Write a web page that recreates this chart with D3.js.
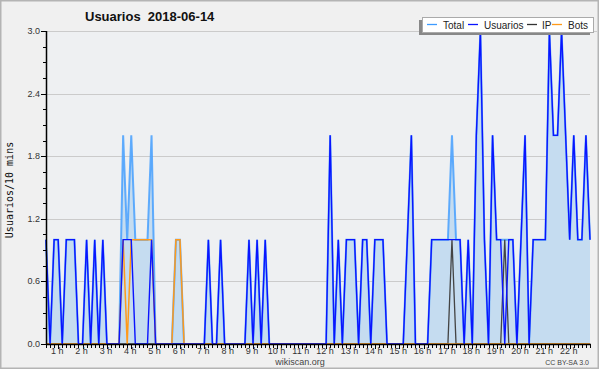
<!DOCTYPE html>
<html>
<head>
<meta charset="utf-8">
<script src="https://cdn.jsdelivr.net/npm/d3@7"></script>
<style>
  body { margin: 0; background: #fff; }
  text { font-family: "Liberation Sans", Arial, sans-serif; }
</style>
</head>
<body>
<svg id="chart" width="600" height="370"></svg>
<script>
// ########## DATOS ##########
// un punto cada 10 minutos, el primero a las 00:30
const START_MIN = 30;
const STEP_MIN = 10;

const total = [
  1,0,1,1,0,1,1,1,0,0,
  1,0,1,0,1,0,0,0,0,2,
  1,2,1,1,1,1,2,0,0,0,
  0,0,1,1,0,0,0,0,0,0,
  1,0,0,1,0,0,0,0,0,0,
  1,0,1,0,1,0,0,0,0,0,
  0,0,0,0,0,0,0,0,0,0,
  2,0,1,0,1,1,1,0,1,1,
  0,1,1,1,0,0,0,0,0,1,
  2,0,0,0,0,1,1,1,1,1,
  2,1,1,0,1,0,2,3,1,0,
  2,1,1,1,1,1,0,1,2,0,
  1,1,1,1,3,2,2,3,2,1,
  2,1,1,2,1
];

const usuarios = [
  1,0,1,1,0,1,1,1,0,0,
  1,0,1,0,1,0,0,0,0,1,
  1,1,0,0,0,0,1,0,0,0,
  0,0,0,0,0,0,0,0,0,0,
  1,0,0,1,0,0,0,0,0,0,
  1,0,1,0,1,0,0,0,0,0,
  0,0,0,0,0,0,0,0,0,0,
  2,0,1,0,1,1,1,0,1,1,
  0,1,1,1,0,0,0,0,0,1,
  2,0,0,0,0,1,1,1,1,1,
  1,1,1,0,1,0,2,3,1,0,
  2,1,1,0,1,1,0,1,2,0,
  1,1,1,1,3,2,2,3,2,1,
  2,1,1,2,1
];

const ip = [
  0,0,0,0,0,0,0,0,0,0,
  0,0,0,0,0,0,0,0,0,0,
  0,0,0,0,0,0,0,0,0,0,
  0,0,0,0,0,0,0,0,0,0,
  0,0,0,0,0,0,0,0,0,0,
  0,0,0,0,0,0,0,0,0,0,
  0,0,0,0,0,0,0,0,0,0,
  0,0,0,0,0,0,0,0,0,0,
  0,0,0,0,0,0,0,0,0,0,
  0,0,0,0,0,0,0,0,0,0,
  1,0,0,0,0,0,0,0,0,0,
  0,0,0,1,0,0,0,0,0,0,
  0,0,0,0,0,0,0,0,0,0,
  0,0,0,0,0
];

const bots = [
  0,0,0,0,0,0,0,0,0,0,
  0,0,0,0,0,0,0,0,0,1,
  0,1,1,1,1,1,1,0,0,0,
  0,0,1,1,0,0,0,0,0,0,
  0,0,0,0,0,0,0,0,0,0,
  0,0,0,0,0,0,0,0,0,0,
  0,0,0,0,0,0,0,0,0,0,
  0,0,0,0,0,0,0,0,0,0,
  0,0,0,0,0,0,0,0,0,0,
  0,0,0,0,0,0,0,0,0,0,
  0,0,0,0,0,0,0,0,0,0,
  0,0,0,0,0,0,0,0,0,0,
  0,0,0,0,0,0,0,0,0,0,
  0,0,0,0,0
];

const yTicks = [0, 0.6, 1.2, 1.8, 2.4, 3.0];
const hourLabels = [1,2,3,4,5,6,7,8,9,10,11,12,13,14,15,16,17,18,19,20,21,22];

const series = [
  { name: "Total", values: total, color: "#3d9bff" },
  { name: "Usuarios", values: usuarios, color: "#0a14ff" },
  { name: "IP", values: ip, color: "#333333" },
  { name: "Bots", values: bots, color: "#ff9a1a" }
];

// ########## GEOMETRIA ##########
const WIDTH = 600, HEIGHT = 370;
const L = 46, R = 590, T = 31, B = 344;

const minutos = d3.range(total.length).map(i => START_MIN + i * STEP_MIN);

const x = d3.scaleLinear()
  .domain([minutos[0], minutos[minutos.length - 1]])
  .range([L, R]);
const y = d3.scaleLinear().domain([0, 3]).range([B, T]);

const svg = d3.select("#chart");

// fondo y marco
svg.append("rect").attr("x", 0).attr("y", 0).attr("width", WIDTH).attr("height", HEIGHT).attr("fill", "#fff");
svg.append("rect")
  .attr("x", 0.75).attr("y", 0.75).attr("width", 597.5).attr("height", 367.5)
  .attr("fill", "#f0f0f0").attr("stroke", "#b4b4b4").attr("stroke-width", 1.5);
svg.append("rect")
  .attr("x", L).attr("y", T).attr("width", R - L).attr("height", B - T)
  .attr("fill", "#eef0f2");

// rejilla horizontal
svg.append("g").selectAll("line")
  .data(yTicks.filter(d => d > 0))
  .enter().append("line")
  .attr("x1", L).attr("x2", d => d === 3 ? 597 : R)
  .attr("y1", d => Math.round(y(d)) + 0.5).attr("y2", d => Math.round(y(d)) + 0.5)
  .attr("stroke", "#cbcbcb").attr("stroke-width", 1);

// area del total
const area = d3.area()
  .x((d, i) => x(minutos[i]))
  .y0(y(0))
  .y1(d => y(d));
svg.append("path")
  .datum(total)
  .attr("d", area)
  .attr("fill", "#c5dcf0");

// lineas
const line = d3.line()
  .x((d, i) => x(minutos[i]))
  .y(d => y(d));

svg.append("path").datum(total).attr("d", line)
  .attr("fill", "none").attr("stroke", "#3d9bff").attr("stroke-width", 2).attr("stroke-opacity", 0.8);
svg.append("path").datum(ip).attr("d", line)
  .attr("fill", "none").attr("stroke", "#444").attr("stroke-width", 1.3);
svg.append("path").datum(bots).attr("d", line)
  .attr("fill", "none").attr("stroke", "#ff9a1a").attr("stroke-width", 1.5);
svg.append("path").datum(usuarios).attr("d", line)
  .attr("fill", "none").attr("stroke", "#0a14ff").attr("stroke-width", 1.4);

// ########## EJES ##########
// eje Y
const yAxis = svg.append("g");
yAxis.append("line")
  .attr("x1", L + 0.5).attr("x2", L + 0.5).attr("y1", T).attr("y2", B + 1)
  .attr("stroke", "#000").attr("stroke-width", 1.5);
yAxis.selectAll("line.minor")
  .data(d3.range(0, 3.001, 0.15))
  .enter().append("line").attr("class", "minor")
  .attr("x1", L - 3).attr("x2", L)
  .attr("y1", d => Math.round(y(d)) + 0.5).attr("y2", d => Math.round(y(d)) + 0.5)
  .attr("stroke", "#000");
yAxis.selectAll("line.major")
  .data(yTicks)
  .enter().append("line").attr("class", "major")
  .attr("x1", L - 5).attr("x2", L)
  .attr("y1", d => Math.round(y(d)) + 0.5).attr("y2", d => Math.round(y(d)) + 0.5)
  .attr("stroke", "#000");
yAxis.selectAll("text")
  .data(yTicks)
  .enter().append("text")
  .attr("x", L - 6).attr("y", d => y(d) + 3)
  .attr("text-anchor", "end")
  .attr("font-size", 9).attr("fill", "#333")
  .text(d => d.toFixed(1));

svg.append("text")
  .attr("transform", "translate(13,190) rotate(-90)")
  .attr("text-anchor", "middle")
  .style("font-family", "'DejaVu Sans Mono', monospace")
  .attr("font-size", 10).attr("fill", "#111")
  .text("Usuarios/10 mins");

// eje X
const xAxis = svg.append("g");
xAxis.selectAll("line.tick")
  .data(minutos)
  .enter().append("line").attr("class", "tick")
  .attr("x1", d => Math.round(x(d)) + 0.5).attr("x2", d => Math.round(x(d)) + 0.5)
  .attr("y1", B).attr("y2", d => d % 60 === 0 ? B + 5 : B + 4)
  .attr("stroke", "#000");
xAxis.append("line")
  .attr("x1", L).attr("x2", R + 1).attr("y1", B + 0.5).attr("y2", B + 0.5)
  .attr("stroke", "#000").attr("stroke-width", 1.5);
xAxis.selectAll("text")
  .data(hourLabels)
  .enter().append("text")
  .attr("x", h => x(h * 60) - 1)
  .attr("y", B + 10)
  .attr("text-anchor", "middle")
  .attr("font-size", 9).attr("fill", "#333")
  .text(h => h + " h");

// ########## TEXTOS ##########
svg.append("text")
  .attr("x", 85).attr("y", 21)
  .attr("font-size", 13).attr("font-weight", "bold").attr("fill", "#111")
  .style("white-space", "pre")
  .text("Usuarios  2018-06-14");

svg.append("text")
  .attr("x", 300).attr("y", 365)
  .attr("text-anchor", "middle")
  .attr("font-size", 9).attr("fill", "#444")
  .text("wikiscan.org");

svg.append("text")
  .attr("x", 589).attr("y", 365)
  .attr("text-anchor", "end")
  .attr("font-size", 7).attr("fill", "#444")
  .text("CC BY-SA 3.0");

// ########## LEYENDA ##########
const legend = svg.append("g");
legend.append("rect")
  .attr("x", 419).attr("y", 20).attr("width", 171).attr("height", 15)
  .attr("fill", "#888");
legend.append("rect")
  .attr("x", 422.5).attr("y", 17.5).attr("width", 171).attr("height", 15)
  .attr("fill", "#fff").attr("stroke", "#aaa");

const legendPos = [
  { line: 427, text: 443 },
  { line: 468, text: 484 },
  { line: 527, text: 542 },
  { line: 552, text: 568 }
];
const items = legend.selectAll("g.item")
  .data(series)
  .enter().append("g").attr("class", "item");
items.append("line")
  .attr("x1", (d, i) => legendPos[i].line).attr("x2", (d, i) => legendPos[i].line + 10)
  .attr("y1", 24.5).attr("y2", 24.5)
  .attr("stroke", d => d.color).attr("stroke-width", 1.3);
items.append("text")
  .attr("x", (d, i) => legendPos[i].text).attr("y", 28.5)
  .attr("font-size", 10).attr("fill", "#222")
  .text(d => d.name);
</script>
</body>
</html>
